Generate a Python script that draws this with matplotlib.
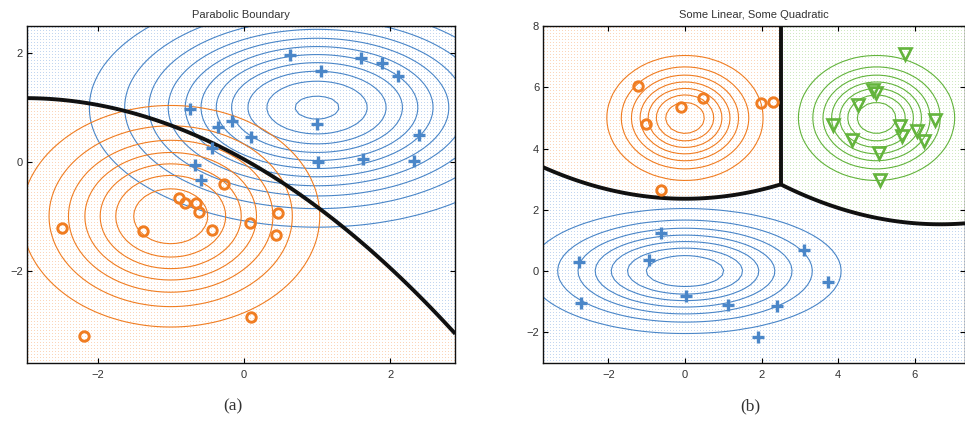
import numpy as np
import matplotlib
matplotlib.use("Agg")
import matplotlib.pyplot as plt

plt.rcParams["font.family"] = ["Liberation Sans", "DejaVu Sans"]

BLUE = "#4a86c8"
ORANGE = "#f07d22"
GREEN = "#63b43c"
DOT_COLORS = ["#c2d6f0", "#fbd6ba", "#d0e9c2"]
TEXT = "#333333"

# (a) parabolic boundary: class means / covariances
mu_a = [np.array([1.0, 1.0]), np.array([-1.0, -1.0])]
sigma_a = [np.array([[2.0, 0.0], [0.0, 1.0]]), np.eye(2)]
levels_a = [np.arange(0.01, 0.115, 0.01), np.arange(0.02, 0.145, 0.02)]

plus_a_x = [0.63, 1.60, 1.89, 1.06, 2.10, -0.73, 1.00, -0.16, -0.35, 0.10, 2.39,
            -0.44, 1.02, 1.63, 2.32, -0.67, -0.59]
plus_a_y = [1.96, 1.91, 1.82, 1.68, 1.58, 0.97, 0.69, 0.75, 0.64, 0.46, 0.49,
            0.26, 0.00, 0.06, 0.01, -0.05, -0.34]
circ_a_x = [-0.27, -0.89, -0.80, -0.66, -0.61, 0.47, 0.08, -2.48, -0.44, -1.38,
            0.44, 0.10, -2.19]
circ_a_y = [-0.40, -0.67, -0.76, -0.75, -0.92, -0.94, -1.13, -1.22, -1.25, -1.28,
            -1.35, -2.86, -3.20]

# (b) some linear, some quadratic
mu_b = [np.array([0.0, 0.0]), np.array([0.0, 5.0]), np.array([5.0, 5.0])]
sigma_b = [np.array([[4.0, 0.0], [0.0, 1.0]]), np.eye(2), np.eye(2)]
levels_b = [np.arange(0.01, 0.075, 0.01), np.arange(0.02, 0.145, 0.02),
            np.arange(0.02, 0.145, 0.02)]

plus_b_x = [-0.63, -2.77, -0.93, 3.11, 3.74, 0.02, -2.72, 1.11, 2.39, 1.90]
plus_b_y = [1.24, 0.31, 0.36, 0.69, -0.35, -0.81, -1.03, -1.12, -1.14, -2.14]
circ_b_x = [-1.24, 0.48, -0.11, -1.03, 1.98, 2.31, -0.63]
circ_b_y = [6.04, 5.66, 5.37, 4.80, 5.50, 5.52, 2.66]
tri_b_x = [5.74, 4.92, 4.99, 4.52, 6.53, 3.87, 5.60, 6.05, 5.66, 4.35, 6.24, 5.07, 5.09]
tri_b_y = [7.07, 5.90, 5.82, 5.43, 4.94, 4.77, 4.75, 4.58, 4.42, 4.29, 4.25, 3.87, 2.96]

W_PX, H_PX = 965, 421


def log_gauss(X, Y, mu, S):
    Si = np.linalg.inv(S)
    dx, dy = X - mu[0], Y - mu[1]
    q = Si[0, 0] * dx * dx + 2 * Si[0, 1] * dx * dy + Si[1, 1] * dy * dy
    return -0.5 * q - 0.5 * np.log(np.linalg.det(S)) - np.log(2 * np.pi)


def draw_panel(ax, rect, mus, sigmas, levels, colors, xlim, ylim):
    # dotted background showing the predicted class
    w = int(round(rect[2] * W_PX))
    h = int(round(rect[3] * H_PX))
    px = xlim[0] + (np.arange(w) + 0.5) / w * (xlim[1] - xlim[0])
    py = ylim[1] - (np.arange(h) + 0.5) / h * (ylim[1] - ylim[0])
    PX, PY = np.meshgrid(px, py)
    lab = np.argmax([log_gauss(PX, PY, m, s) for m, s in zip(mus, sigmas)], axis=0)
    img = np.ones((h, w, 3))
    dots = np.zeros((h, w), bool)
    dots[1::3, 1::3] = True
    for k in range(len(mus)):
        img[dots & (lab == k)] = matplotlib.colors.to_rgb(DOT_COLORS[k])
    ax.imshow(img, extent=(xlim[0], xlim[1], ylim[0], ylim[1]), origin="upper",
              interpolation="nearest", aspect="auto", zorder=0)

    # class density contours
    gx = np.linspace(xlim[0], xlim[1], 70)
    gy = np.linspace(ylim[0], ylim[1], 70)
    GX, GY = np.meshgrid(gx, gy)
    for m, s, lv, c in zip(mus, sigmas, levels, colors):
        Z = np.exp(log_gauss(GX, GY, m, s))
        ax.contour(GX, GY, Z, levels=lv, colors=c, linewidths=0.8, zorder=1)

    # decision boundaries
    fx = np.linspace(xlim[0], xlim[1], 700)
    fy = np.linspace(ylim[0], ylim[1], 700)
    FX, FY = np.meshgrid(fx, fy)
    G = np.array([log_gauss(FX, FY, m, s) for m, s in zip(mus, sigmas)])
    n = len(mus)
    for i in range(n):
        for j in range(i + 1, n):
            d = G[i] - G[j]
            others = [G[k] for k in range(n) if k not in (i, j)]
            if others:
                top = np.max(others, axis=0)
                d = np.ma.masked_where(np.maximum(G[i], G[j]) < top - 0.02, d)
            ax.contour(FX, FY, d, levels=[0], colors="#111111", linewidths=2.8,
                       zorder=2)

    ax.set_xlim(xlim)
    ax.set_ylim(ylim)
    ax.tick_params(direction="in", top=True, right=True, length=3.5, width=0.8,
                   labelsize=8, labelcolor=TEXT)
    ax.tick_params(axis="x", pad=5)
    ax.tick_params(axis="y", pad=3)
    for sp in ax.spines.values():
        sp.set_linewidth(1.0)
        sp.set_color("#111111")


fig = plt.figure(figsize=(W_PX / 100, H_PX / 100), dpi=100)

rect_a = [27.3 / W_PX, 1 - 363 / H_PX, 428 / W_PX, 337 / H_PX]
rect_b = [543.3 / W_PX, 1 - 363 / H_PX, (W_PX - 543.3) / W_PX, 337 / H_PX]

ax1 = fig.add_axes(rect_a)
draw_panel(ax1, rect_a, mu_a, sigma_a, levels_a, [BLUE, ORANGE],
           (-2.96, 2.89), (-3.7, 2.5))
ax1.plot(plus_a_x, plus_a_y, "+", color=BLUE, ms=9, mew=2.4, zorder=3)
ax1.plot(circ_a_x, circ_a_y, "o", mfc="none", mec=ORANGE, ms=6.8, mew=2.1, zorder=3)
ax1.set_xticks([-2, 0, 2])
ax1.set_yticks([-2, 0, 2])
ax1.set_title("Parabolic Boundary", fontsize=8, color=TEXT, pad=6)

ax2 = fig.add_axes(rect_b)
draw_panel(ax2, rect_b, mu_b, sigma_b, levels_b, [BLUE, ORANGE, GREEN],
           (-3.7, 7.31), (-3.0, 8.0))
ax2.plot(plus_b_x, plus_b_y, "+", color=BLUE, ms=9, mew=2.4, zorder=3)
ax2.plot(circ_b_x, circ_b_y, "o", mfc="none", mec=ORANGE, ms=6.8, mew=2.1, zorder=3)
ax2.plot(tri_b_x, tri_b_y, "v", mfc="none", mec=GREEN, ms=9, mew=1.9, zorder=3)
ax2.set_xticks([-2, 0, 2, 4, 6])
ax2.set_yticks([-2, 0, 2, 4, 6, 8])
ax2.set_title("Some Linear, Some Quadratic", fontsize=8, color=TEXT, pad=6)

fig.text(233 / W_PX, 1 - 406 / H_PX, "(a)", ha="center", va="center",
         family="Liberation Serif", fontsize=12.5, color=TEXT)
fig.text(750 / W_PX, 1 - 406 / H_PX, "(b)", ha="center", va="center",
         family="Liberation Serif", fontsize=12.5, color=TEXT)

fig.savefig("out.png", dpi=100, facecolor="white")
